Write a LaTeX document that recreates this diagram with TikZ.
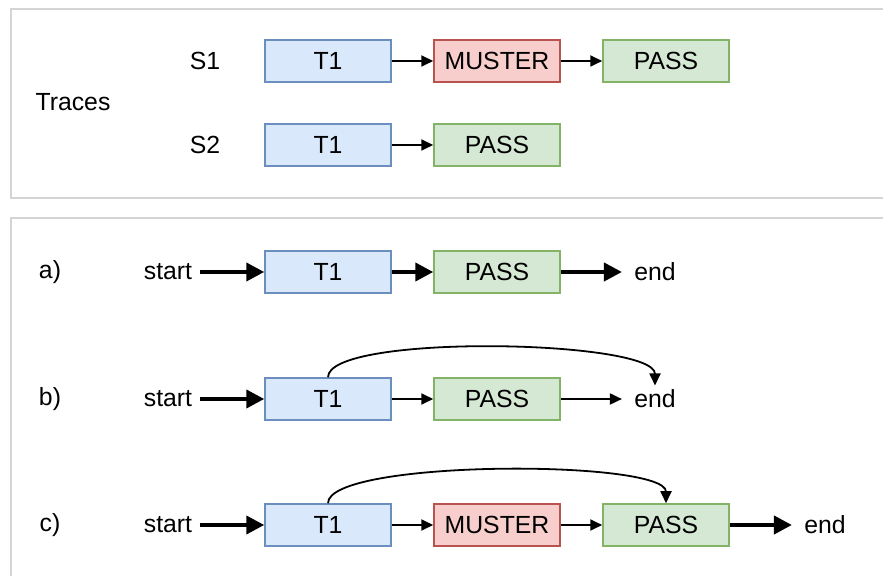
\documentclass[tikz,border=0pt]{standalone}
\usepackage{fontspec}
\setmainfont{Liberation Sans}
\usetikzlibrary{arrows.meta}

\definecolor{tfill}{HTML}{DAE8FC}
\definecolor{tline}{HTML}{6C8EBF}
\definecolor{mfill}{HTML}{F8CECC}
\definecolor{mline}{HTML}{B85450}
\definecolor{pfill}{HTML}{D5E8D4}
\definecolor{pline}{HTML}{82B366}
\definecolor{framegray}{HTML}{D4D4D4}

\tikzset{
    stepbox/.style={draw, line width=0.75pt, minimum width=63pt, minimum height=21pt, inner sep=0pt},
    tbox/.style={stepbox, fill=tfill, draw=tline},
    mbox/.style={stepbox, fill=mfill, draw=mline},
    pbox/.style={stepbox, fill=pfill, draw=pline},
    startlabel/.style={inner xsep=3.5pt},
    endlabel/.style={inner xsep=6pt},
    frame/.style={draw=framegray, line width=1pt},
    thinarr/.style={-{Triangle[length=6pt,width=5.5pt]}, line width=0.9pt},
    thickarr/.style={-{Triangle[length=9pt,width=9pt]}, line width=2pt},
}

\begin{document}
\begin{tikzpicture}[x=0.5pt, y=-0.5pt, font=\fontsize{12.4}{15}\selectfont, inner sep=2pt]
    \useasboundingbox (0,0) rectangle (883,576);

    % Panel with the traces
    \draw[frame] (11,9) rectangle (900,198);
    \node (traces) at (73,102) {Traces};
    \node (s1) at (205,61) {S1};
    \node (s2) at (205,145) {S2};

    \node[tbox] (s1t) at (328,61) {T1};
    \node[mbox] (s1m) at (497,61) {MUSTER};
    \node[pbox] (s1p) at (666,61) {PASS};
    \draw[thinarr] (s1t) -- (s1m);
    \draw[thinarr] (s1m) -- (s1p);

    \node[tbox] (s2t) at (328,145) {T1};
    \node[pbox] (s2p) at (497,145) {PASS};
    \draw[thinarr] (s2t) -- (s2p);

    % Panel with the models
    \draw[frame] (11,218) rectangle (900,600);

    % a)
    \node (la) at (50,272) {a)};
    \node[startlabel] (starta) at (168,272) {start};
    \node[tbox] (ta) at (328,272) {T1};
    \node[pbox] (pa) at (497,272) {PASS};
    \node[endlabel] (enda) at (655,272) {end};
    \draw[thickarr] (starta) -- (ta);
    \draw[thickarr] (ta) -- (pa);
    \draw[thickarr] (pa) -- (enda);

    % b)
    \node (lb) at (50,399) {b)};
    \node[startlabel] (startb) at (168,399) {start};
    \node[tbox] (tb) at (328,399) {T1};
    \node[pbox] (pb) at (497,399) {PASS};
    \node[endlabel] (endb) at (655,399) {end};
    \draw[thickarr] (startb) -- (tb);
    \draw[thinarr] (tb) -- (pb);
    \draw[thinarr] (pb) -- (endb);
    \draw[thinarr] (tb.north) .. controls +(0,-44) and +(0,-46) .. (endb.north);

    % c)
    \node (lc) at (50,525) {c)};
    \node[startlabel] (startc) at (168,525) {start};
    \node[tbox] (tc) at (328,525) {T1};
    \node[mbox] (mc) at (497,525) {MUSTER};
    \node[pbox] (pc) at (666,525) {PASS};
    \node[endlabel] (endc) at (825,525) {end};
    \draw[thickarr] (startc) -- (tc);
    \draw[thinarr] (tc) -- (mc);
    \draw[thinarr] (mc) -- (pc);
    \draw[thickarr] (pc) -- (endc);
    \draw[thinarr] (tc.north) .. controls +(0,-44) and +(0,-44) .. (pc.north);
\end{tikzpicture}
\end{document}
